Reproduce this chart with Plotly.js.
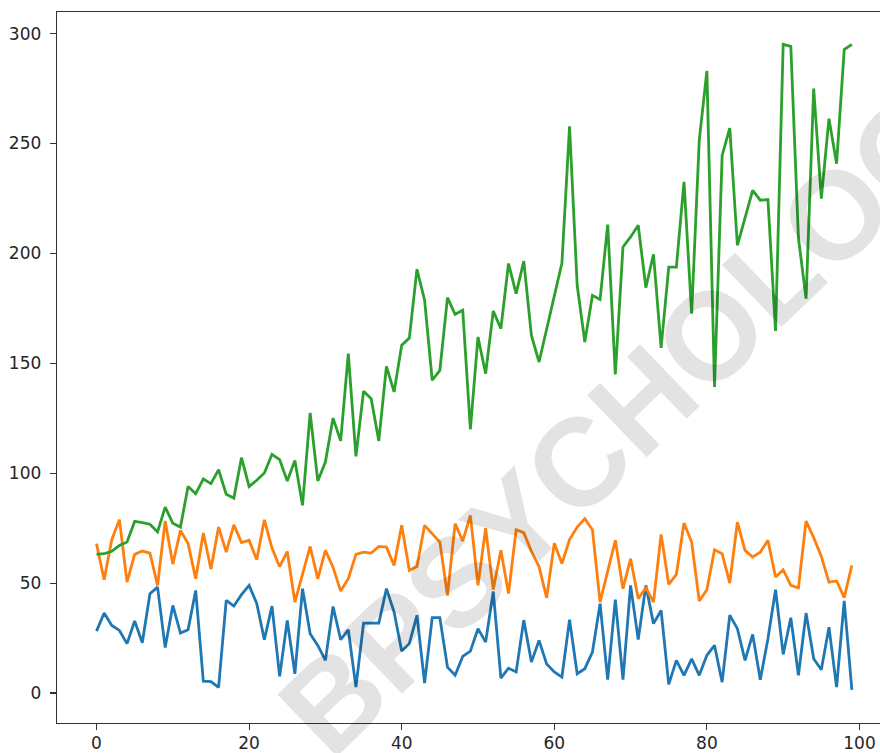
<!DOCTYPE html>
<html>
<head>
<meta charset="utf-8">
<script src="https://cdn.plot.ly/plotly-3.0.1.min.js"></script>
<style>
  html, body { margin: 0; padding: 0; background: #ffffff; }
  #chart { width: 880px; height: 753px; }
</style>
</head>
<body>
<div id="chart"></div>
<script>
// Three noisy series over 100 steps
const xIndex = Array.from({length: 100}, (_, i) => i);

const blueSeries = [
  28.2, 36.4, 30.8, 28.5, 22.5, 32.8, 22.9, 45.2, 48.2, 20.7,
  39.9, 27.3, 28.8, 46.7, 5.4, 5.2, 2.6, 42.2, 39.6, 44.8,
  49.0, 40.8, 24.3, 39.6, 7.6, 33.0, 8.8, 47.5, 27.0, 21.7,
  14.9, 39.4, 24.3, 28.8, 2.7, 31.8, 31.8, 31.8, 47.5, 36.9,
  19.1, 22.5, 35.4, 4.6, 34.3, 34.3, 11.8, 8.1, 16.7, 19.1,
  29.3, 23.2, 46.2, 6.8, 11.3, 9.6, 33.2, 14.1, 24.0, 13.2,
  9.6, 7.3, 33.4, 8.8, 11.1, 18.7, 40.7, 6.1, 42.5, 6.1,
  49.0, 24.3, 49.0, 31.6, 37.6, 4.0, 14.9, 8.1, 15.6, 8.1,
  17.2, 21.7, 5.0, 35.4, 29.3, 14.9, 26.7, 6.1, 24.7, 47.0,
  17.6, 34.3, 8.1, 36.4, 15.6, 10.6, 30.0, 2.7, 41.9, 1.5
];

const orangeSeries = [
  68.0, 51.6, 69.8, 78.9, 50.5, 63.1, 64.6, 63.7, 49.0, 78.3,
  58.6, 74.0, 68.0, 52.0, 72.8, 56.4, 75.5, 64.1, 76.5, 68.5,
  69.5, 60.7, 78.8, 66.0, 57.5, 64.4, 41.4, 53.5, 66.7, 52.0,
  64.9, 57.3, 46.4, 52.0, 63.1, 64.1, 63.7, 66.7, 66.4, 58.1,
  76.3, 55.8, 57.6, 76.3, 72.5, 68.7, 44.4, 77.1, 69.2, 80.8,
  49.0, 75.0, 47.1, 65.0, 45.3, 74.3, 73.0, 64.5, 57.5, 43.3,
  68.2, 58.9, 69.8, 75.5, 79.3, 74.3, 41.4, 55.1, 69.5, 47.5,
  61.1, 42.9, 47.9, 41.4, 72.2, 49.5, 54.0, 77.4, 68.7, 41.9,
  47.0, 65.2, 63.4, 50.0, 77.8, 64.9, 61.9, 64.1, 69.5, 52.8,
  56.1, 49.0, 47.9, 78.3, 70.7, 62.2, 50.5, 51.0, 43.4, 58.1
];

const greenSeries = [
  63.1, 63.4, 64.5, 67.2, 68.7, 78.1, 77.5, 76.8, 73.3, 84.6,
  77.3, 75.5, 94.0, 90.7, 97.4, 95.3, 101.6, 90.4, 88.7, 107.1,
  94.0, 96.8, 100.1, 108.6, 106.2, 96.5, 105.8, 85.4, 127.4, 96.5,
  105.1, 125.1, 114.7, 154.4, 107.7, 137.3, 133.9, 114.7, 148.6, 137.0,
  158.2, 161.5, 192.8, 178.7, 142.3, 146.8, 179.9, 172.3, 174.1, 120.0,
  162.0, 145.3, 173.8, 165.8, 195.4, 181.7, 196.5, 162.7, 150.6, 166.0,
  181.0, 195.6, 257.8, 185.5, 159.7, 180.9, 179.0, 213.1, 145.0, 202.9,
  207.5, 212.8, 184.4, 199.6, 157.0, 193.8, 193.8, 232.5, 172.6, 251.5,
  283.0, 139.2, 244.6, 257.0, 203.7, 216.0, 228.7, 224.2, 224.5, 164.7,
  295.1, 294.2, 207.0, 179.4, 275.0, 224.9, 261.3, 240.8, 292.7, 295.1
];

const xTicks = [0, 20, 40, 60, 80, 100];
const yTicks = [0, 50, 100, 150, 200, 250, 300];
const watermarkText = "BPSYCHOLOGY";

// figure geometry (pixels)
const W = 880, H = 753;
const M = {l: 57, r: 0, t: 12, b: 30};
const plotW = W - M.l - M.r, plotH = H - M.t - M.b;
const px2paperX = px => (px - M.l) / plotW;
const px2paperY = py => (H - M.b - py) / plotH;

const lineW = 2.8;
const traces = [
  {x: xIndex, y: blueSeries, mode: 'lines', line: {color: '#1f77b4', width: lineW}},
  {x: xIndex, y: orangeSeries, mode: 'lines', line: {color: '#ff7f0e', width: lineW}},
  {x: xIndex, y: greenSeries, mode: 'lines', line: {color: '#2ca02c', width: lineW}}
];

const tickFont = {family: 'DejaVu Sans, sans-serif', size: 17, color: '#262626'};
const axisCommon = {
  showgrid: false, zeroline: false,
  showline: true, linecolor: '#333333', linewidth: 1.3,
  ticks: 'outside', ticklen: 6, tickwidth: 1.2, tickcolor: '#333333',
  tickfont: tickFont
};

const layout = {
  width: W, height: H,
  margin: M,
  paper_bgcolor: '#ffffff', plot_bgcolor: '#ffffff',
  showlegend: false,
  xaxis: Object.assign({}, axisCommon, {
    range: [-5.18, 102.69], tickmode: 'array', tickvals: xTicks,
    mirror: true, ticklabelstandoff: -2
  }),
  yaxis: Object.assign({}, axisCommon, {
    range: [-13.6, 309.8], tickmode: 'array', tickvals: yTicks,
    mirror: false, ticklabelstandoff: 5
  }),
  annotations: [{
    text: watermarkText,
    xref: 'paper', yref: 'paper',
    x: px2paperX(650), y: px2paperY(393),
    xanchor: 'center', yanchor: 'middle',
    showarrow: false, textangle: -44,
    font: {family: 'Liberation Sans, Arial, sans-serif', size: 125, weight: 'bold', color: 'rgba(0,0,0,0.11)'}
  }]
};

Plotly.newPlot('chart', traces, layout, {displayModeBar: false, staticPlot: true});
</script>
</body>
</html>
